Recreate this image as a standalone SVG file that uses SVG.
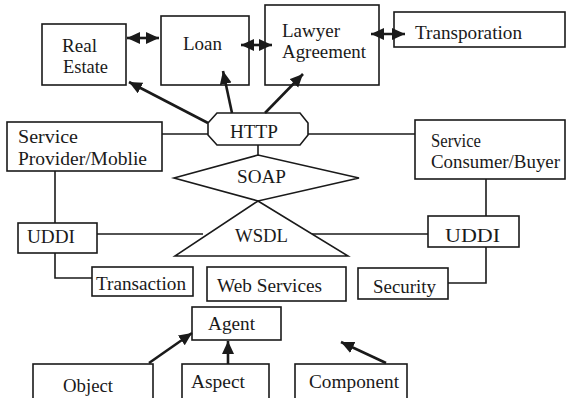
<svg xmlns="http://www.w3.org/2000/svg" width="566" height="398" viewBox="0 0 566 398">
<style>
.box{fill:none;stroke:#1a1a1a;stroke-width:1.6}
.ln{fill:none;stroke:#1a1a1a;stroke-width:1.6}
.ar{fill:none;stroke:#1a1a1a;stroke-width:2.6}
.t{font-family:'Liberation Serif','Times New Roman',serif;font-size:18px;fill:#1a1a1a}
</style>
<defs>
<marker id="ah" markerUnits="userSpaceOnUse" markerWidth="16" markerHeight="14" refX="13" refY="6" orient="auto-start-reverse">
<path d="M0,0 L13,6 L0,12 Z" fill="#1a1a1a"/>
</marker>
</defs>
<rect width="566" height="398" fill="#fff"/>
<g id="connectors">
<line class="ar" x1="127" y1="38" x2="159" y2="38" marker-start="url(#ah)" marker-end="url(#ah)"/>
<line class="ar" x1="241" y1="45" x2="272" y2="45" marker-start="url(#ah)" marker-end="url(#ah)"/>
<line class="ar" x1="371" y1="34" x2="405" y2="34" marker-start="url(#ah)" marker-end="url(#ah)"/>
<line class="ar" x1="208" y1="123" x2="129" y2="82" marker-end="url(#ah)"/>
<line class="ar" x1="232" y1="113" x2="223" y2="71" marker-end="url(#ah)"/>
<line class="ar" x1="265" y1="113" x2="303" y2="74" marker-end="url(#ah)"/>
<line class="ln" x1="162" y1="134" x2="208" y2="134"/>
<line class="ln" x1="308" y1="134" x2="415" y2="134"/>
<line class="ln" x1="258" y1="145" x2="258" y2="155"/>
<line class="ln" x1="55" y1="171" x2="55" y2="223"/>
<line class="ln" x1="486" y1="179" x2="486" y2="216"/>
<line class="ln" x1="97" y1="234" x2="203" y2="234"/>
<line class="ln" x1="312" y1="234" x2="428" y2="234"/>
<polyline class="ln" points="55,253 55,278 92,278"/>
<polyline class="ln" points="486,247 486,283 448,283"/>
<line class="ar" x1="149" y1="363" x2="192" y2="333" marker-end="url(#ah)"/>
<line class="ar" x1="228" y1="364" x2="228" y2="341" marker-end="url(#ah)"/>
<line class="ar" x1="386" y1="363" x2="341" y2="342" marker-end="url(#ah)"/>
</g>
<g id="real-estate"><rect class="box" x="42" y="24" width="84" height="61"/><text class="t" x="62" y="52" textLength="35" lengthAdjust="spacingAndGlyphs">Real</text><text class="t" x="63" y="73" textLength="45" lengthAdjust="spacingAndGlyphs">Estate</text></g>
<g id="loan"><rect class="box" x="161" y="16" width="88" height="69"/><text class="t" x="183" y="50" textLength="39" lengthAdjust="spacingAndGlyphs">Loan</text></g>
<g id="lawyer"><rect class="box" x="265" y="5" width="114" height="80"/><text class="t" x="282" y="37" textLength="58" lengthAdjust="spacingAndGlyphs">Lawyer</text><text class="t" x="282" y="58" textLength="84" lengthAdjust="spacingAndGlyphs">Agreement</text></g>
<g id="transporation"><rect class="box" x="394" y="12" width="171" height="35"/><text class="t" x="415" y="39" textLength="107" lengthAdjust="spacingAndGlyphs">Transporation</text></g>
<g id="http"><polygon class="box" points="217,113 300,113 308,123 308,135 300,145 217,145 208,135 208,123"/><text class="t" x="230" y="138" textLength="48" lengthAdjust="spacingAndGlyphs">HTTP</text></g>
<g id="provider"><rect class="box" x="7" y="122" width="155" height="49"/><text class="t" x="18" y="143" textLength="60" lengthAdjust="spacingAndGlyphs">Service</text><text class="t" x="18" y="165" textLength="129" lengthAdjust="spacingAndGlyphs">Provider/Moblie</text></g>
<g id="consumer"><rect class="box" x="415" y="120" width="150" height="59"/><text class="t" x="431" y="147" textLength="50" lengthAdjust="spacingAndGlyphs">Service</text><text class="t" x="431" y="168" textLength="129" lengthAdjust="spacingAndGlyphs">Consumer/Buyer</text></g>
<g id="soap"><polygon class="box" points="174,178 258,155 359,178 258,201"/><text class="t" x="237" y="183" textLength="49" lengthAdjust="spacingAndGlyphs">SOAP</text></g>
<g id="wsdl"><polygon class="box" points="258,201 348,256 175,256"/><text class="t" x="235" y="242" textLength="53" lengthAdjust="spacingAndGlyphs">WSDL</text></g>
<g id="uddi-left"><rect class="box" x="18" y="223" width="79" height="30"/><text class="t" x="27" y="243" textLength="48" lengthAdjust="spacingAndGlyphs">UDDI</text></g>
<g id="uddi-right"><rect class="box" x="428" y="216" width="91" height="31"/><text class="t" x="445" y="242" textLength="55" lengthAdjust="spacingAndGlyphs">UDDI</text></g>
<g id="transaction"><rect class="box" x="92" y="267" width="101" height="29"/><text class="t" x="96" y="290" textLength="90" lengthAdjust="spacingAndGlyphs">Transaction</text></g>
<g id="web-services"><rect class="box" x="207" y="267" width="139" height="34"/><text class="t" x="217" y="292" textLength="105" lengthAdjust="spacingAndGlyphs">Web Services</text></g>
<g id="security"><rect class="box" x="358" y="268" width="90" height="31"/><text class="t" x="373" y="293" textLength="63" lengthAdjust="spacingAndGlyphs">Security</text></g>
<g id="agent"><rect class="box" x="192" y="307" width="89" height="33"/><text class="t" x="208" y="330" textLength="47" lengthAdjust="spacingAndGlyphs">Agent</text></g>
<g id="object"><rect class="box" x="33" y="364" width="120" height="40"/><text class="t" x="63" y="392" textLength="50" lengthAdjust="spacingAndGlyphs">Object</text></g>
<g id="aspect"><rect class="box" x="182" y="364" width="87" height="40"/><text class="t" x="191" y="388" textLength="54" lengthAdjust="spacingAndGlyphs">Aspect</text></g>
<g id="component"><rect class="box" x="295" y="364" width="112" height="40"/><text class="t" x="309" y="388" textLength="90" lengthAdjust="spacingAndGlyphs">Component</text></g>
</svg>
